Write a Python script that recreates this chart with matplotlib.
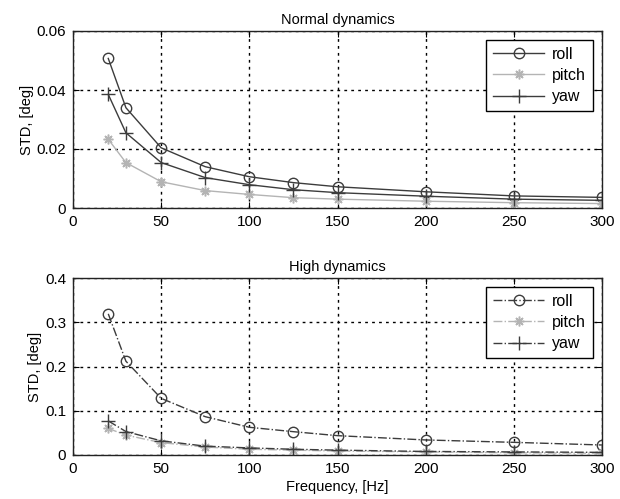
import matplotlib
matplotlib.use("Agg")
import matplotlib.pyplot as plt
from matplotlib.ticker import FuncFormatter

plt.rcParams['font.family'] = ['Liberation Sans', 'DejaVu Sans']
plt.rcParams['font.size'] = 10

freq = [20, 30, 50, 75, 100, 125, 150, 200, 250, 300]

normal_roll = [0.0507, 0.034, 0.0204, 0.014, 0.0106, 0.0086, 0.0072, 0.0055, 0.0041, 0.0036]
normal_pitch = [0.0233, 0.0154, 0.0089, 0.0059, 0.0046, 0.0035, 0.003, 0.0023, 0.0018, 0.0015]
normal_yaw = [0.0385, 0.0255, 0.0154, 0.0103, 0.0079, 0.0062, 0.0052, 0.004, 0.003, 0.0026]

high_roll = [0.319, 0.212, 0.128, 0.0866, 0.0626, 0.0527, 0.0437, 0.034, 0.0286, 0.0226]
high_pitch = [0.06, 0.045, 0.028, 0.018, 0.013, 0.011, 0.009, 0.007, 0.005, 0.004]
high_yaw = [0.077, 0.053, 0.032, 0.02, 0.016, 0.013, 0.011, 0.008, 0.007, 0.006]

labels = ['roll', 'pitch', 'yaw']
xticks = [0, 50, 100, 150, 200, 250, 300]

fig = plt.figure(figsize=(6.2, 4.99), dpi=100)
W, H = 620, 499
ax1 = fig.add_axes([73 / W, 1 - 208 / H, 529 / W, 177 / H])
ax2 = fig.add_axes([73 / W, 1 - 455 / H, 529 / W, 177 / H])

dark = '#3c3c3c'
light = '#b4b4b4'

def fmt(v, pos):
    return '0' if v == 0 else ('%g' % v)

def style(ax, ymax, ystep, ls, data, title):
    r, p, y = data
    ax.plot(freq, r, ls, color=dark, marker='o', markersize=7.5, mfc='none', mec=dark, mew=1.0, lw=1, label=labels[0])
    ax.plot(freq, p, ls, color=light, marker=(8, 2, 0), markersize=7, mec=light, mew=1.1, lw=1, label=labels[1])
    ax.plot(freq, y, ls, color=dark, marker='+', markersize=10, mec=dark, mew=1.0, lw=1, label=labels[2])
    ax.set_xlim(0, 300)
    ax.set_ylim(0, ymax)
    ax.set_xticks(xticks)
    n = int(round(ymax / ystep))
    ax.set_yticks([i * ystep for i in range(n + 1)])
    ax.yaxis.set_major_formatter(FuncFormatter(fmt))
    ax.grid(True, linestyle=(0, (2, 3)), color='black', linewidth=1.0)
    ax.tick_params(direction='in', length=4, labelsize=11, top=True, right=True, pad=5)
    for s in ax.spines.values():
        s.set_linewidth(1.0)
        s.set_color('#222222')
    ax.set_title(title, fontsize=10.5, pad=5)
    ax.set_ylabel('STD, [deg]', fontsize=10.5, labelpad=2)
    leg = ax.legend(loc='upper right', fancybox=False, edgecolor='black', framealpha=1,
                    handlelength=3.2, borderaxespad=0.55, fontsize=11.5, labelspacing=0.38,
                    borderpad=0.45, handletextpad=0.5)
    leg.get_frame().set_linewidth(1.0)

style(ax1, 0.06, 0.02, '-', (normal_roll, normal_pitch, normal_yaw), 'Normal dynamics')
style(ax2, 0.4, 0.1, '-.', (high_roll, high_pitch, high_yaw), 'High dynamics')
ax2.set_xlabel('Frequency, [Hz]', fontsize=10.5, labelpad=3)

fig.savefig('out.png', dpi=100)
